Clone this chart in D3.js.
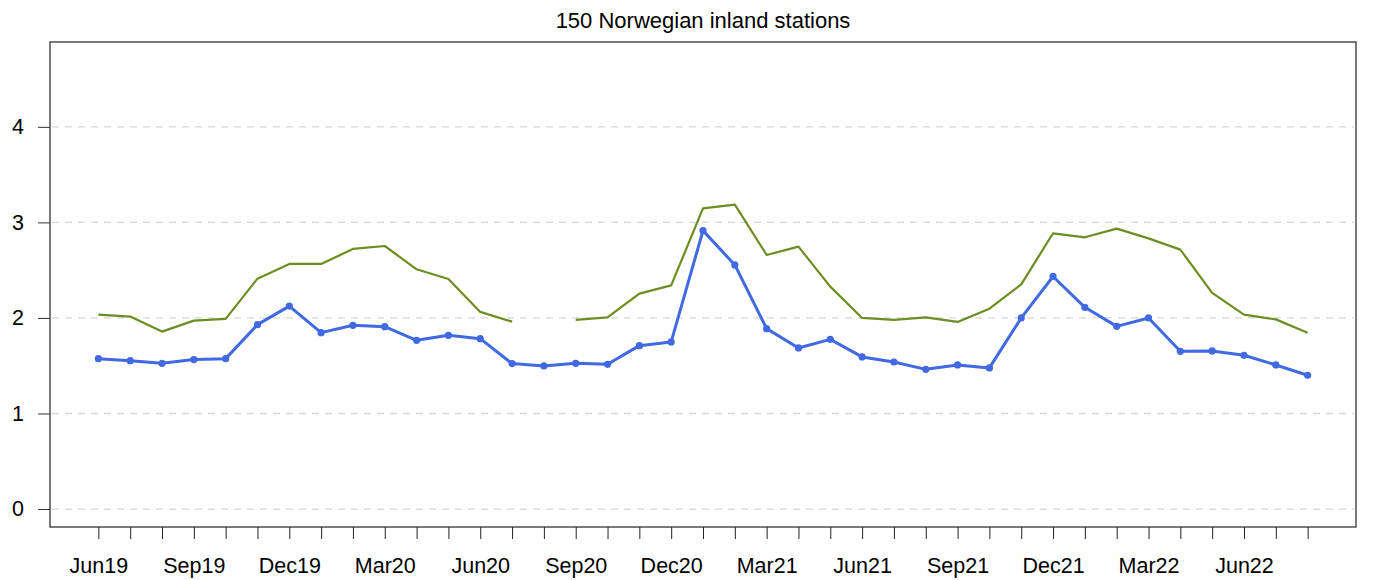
<!DOCTYPE html>
<html>
<head>
<meta charset="utf-8">
<script src="https://cdn.jsdelivr.net/npm/d3@7"></script>
<style>
  html, body { margin: 0; padding: 0; background: #fff; }
  svg { display: block; font-family: "Liberation Sans", Arial, Helvetica, sans-serif; }
</style>
</head>
<body>
<svg id="chart" width="1375" height="580"></svg>
<script>
// Monthly categories, Jun 2019 – Aug 2022
const months = [
  "Jun19","Jul19","Aug19","Sep19","Oct19","Nov19","Dec19",
  "Jan20","Feb20","Mar20","Apr20","May20","Jun20","Jul20","Aug20","Sep20","Oct20","Nov20","Dec20",
  "Jan21","Feb21","Mar21","Apr21","May21","Jun21","Jul21","Aug21","Sep21","Oct21","Nov21","Dec21",
  "Jan22","Feb22","Mar22","Apr22","May22","Jun22","Jul22","Aug22"
];

// Blue series (line with markers)
const seriesBlue = [
  1.574, 1.553, 1.525, 1.564, 1.574, 1.930, 2.124,
  1.846, 1.923, 1.909, 1.766, 1.818, 1.783, 1.522, 1.498, 1.525, 1.515, 1.710, 1.749,
  2.914, 2.555, 1.888, 1.686, 1.776, 1.592, 1.539, 1.462, 1.508, 1.477, 2.000, 2.434,
  2.111, 1.912, 2.000, 1.651, 1.655, 1.609, 1.508, 1.400
];

// Green series (plain line, Aug20 missing)
const seriesGreen = [
  2.035, 2.014, 1.857, 1.972, 1.990, 2.411, 2.565,
  2.565, 2.722, 2.753, 2.509, 2.408, 2.063, 1.961, null, 1.979, 2.006, 2.254, 2.341,
  3.147, 3.186, 2.659, 2.746, 2.328, 2.000, 1.979, 2.006, 1.958, 2.097, 2.352, 2.886,
  2.844, 2.935, 2.833, 2.715, 2.262, 2.035, 1.985, 1.846
];

const yTicks = [0, 1, 2, 3, 4];
const xLabels = ["Jun19","Sep19","Dec19","Mar20","Jun20","Sep20","Dec20","Mar21","Jun21","Sep21","Dec21","Mar22","Jun22"];
const title = "150 Norwegian inland stations";

const svg = d3.select("#chart");
const box = { left: 50, right: 1356, top: 42, bottom: 527 };
const labelSize = 21.5;

// Axis limits with 4% padding on each side (ylim 0..4.7)
const yMin = 0, yMax = 4.7, pad = 0.04 * (yMax - yMin);
const x = d3.scalePoint().domain(months).range([box.left, box.right]).padding(0.04 * (months.length - 1));
const y = d3.scaleLinear().domain([yMin - pad, yMax + pad]).range([box.bottom, box.top]);

// Horizontal dashed reference lines
svg.append("g")
  .selectAll("line")
  .data(yTicks)
  .join("line")
  .attr("x1", box.left + 2).attr("x2", box.right - 2)
  .attr("y1", d => y(d)).attr("y2", d => y(d))
  .attr("stroke", "#d6d6d6").attr("stroke-width", 1.3)
  .attr("stroke-dasharray", "7,6");

// Y axis
const yAxis = svg.append("g")
  .attr("transform", `translate(${box.left},0)`)
  .call(d3.axisLeft(y).tickValues(yTicks).tickSize(12).tickPadding(14).tickFormat(d3.format("d")));
yAxis.select(".domain").remove();
yAxis.selectAll(".tick line").attr("stroke", "#333");
yAxis.selectAll(".tick text")
  .attr("font-size", labelSize).attr("fill", "#000")
  .attr("font-family", "Liberation Sans, Arial, sans-serif");

// X axis: every month ticked, every third labelled
const xAxis = svg.append("g")
  .attr("transform", `translate(0,${box.bottom})`)
  .call(d3.axisBottom(x).tickSize(12).tickPadding(19)
    .tickFormat(d => xLabels.includes(d) ? d : ""));
xAxis.select(".domain").remove();
xAxis.selectAll(".tick line").attr("stroke", "#222");
xAxis.selectAll(".tick text")
  .attr("font-size", labelSize).attr("fill", "#000")
  .attr("font-family", "Liberation Sans, Arial, sans-serif");

// Plot frame
svg.append("rect")
  .attr("x", box.left).attr("y", box.top)
  .attr("width", box.right - box.left).attr("height", box.bottom - box.top)
  .attr("fill", "none").attr("stroke", "#333").attr("stroke-width", 1.3);

// Green line
const lineGreen = d3.line()
  .defined(d => d != null)
  .x((d, i) => x(months[i]))
  .y(d => y(d));
svg.append("path")
  .datum(seriesGreen)
  .attr("d", lineGreen)
  .attr("fill", "none")
  .attr("stroke", "#6B8E23")
  .attr("stroke-width", 2.2)
  .attr("stroke-linejoin", "round");

// Blue line with markers
const lineBlue = d3.line()
  .x((d, i) => x(months[i]))
  .y(d => y(d));
svg.append("path")
  .datum(seriesBlue)
  .attr("d", lineBlue)
  .attr("fill", "none")
  .attr("stroke", "#4169E1")
  .attr("stroke-width", 3)
  .attr("stroke-linejoin", "round");
svg.append("g")
  .selectAll("circle")
  .data(seriesBlue)
  .join("circle")
  .attr("cx", (d, i) => x(months[i]))
  .attr("cy", d => y(d))
  .attr("r", 3.6)
  .attr("fill", "#4169E1");

// Title
svg.append("text")
  .attr("x", (box.left + box.right) / 2)
  .attr("y", 28)
  .attr("text-anchor", "middle")
  .attr("font-size", 22)
  .attr("fill", "#000")
  .text(title);
</script>
</body>
</html>
